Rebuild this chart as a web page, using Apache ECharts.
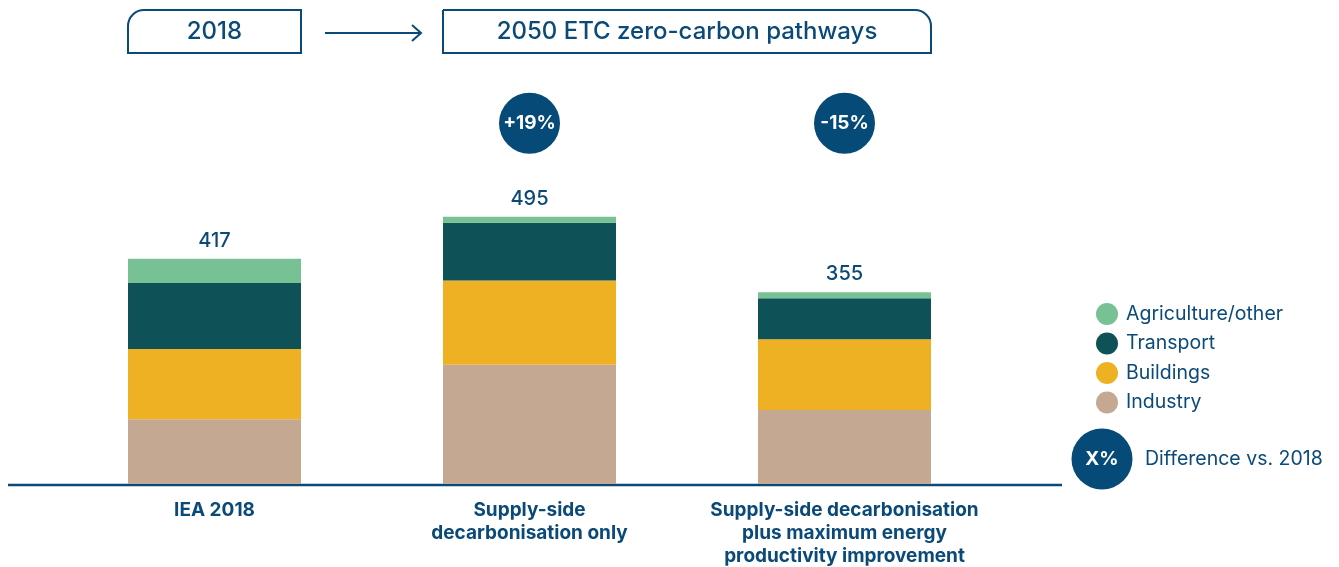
<!DOCTYPE html>
<html>
<head>
<meta charset="utf-8">
<script src="https://cdn.jsdelivr.net/npm/echarts@6/dist/echarts.min.js"></script>
<style>
  html, body { margin: 0; padding: 0; background: #fff; }
  #main { width: 1339px; height: 567px; }
</style>
</head>
<body>
<div id="main"></div>
<script>
// data
const categories = ['IEA 2018', 'Supply-side\ndecarbonisation only', 'Supply-side decarbonisation\nplus maximum energy\nproductivity improvement'];
const industry = [120, 221, 137];
const buildings = [130, 156, 131];
const transport = [122, 107, 76];
const agriculture = [45, 11, 11];
const totals = [417, 495, 355];
const differences = ['', '+19%', '-15%'];

const navy = '#0b4a78';
const font = 'Inter';

var myChart = echarts.init(document.getElementById('main'));

function barSeries(name, data, color) {
  return {
    name: name,
    type: 'bar',
    stack: 'total',
    barWidth: 173,
    data: data,
    itemStyle: { color: color },
    emphasis: { disabled: true }
  };
}

var agriSeries = barSeries('Agriculture/other', agriculture, '#78c194');
agriSeries.label = {
  show: true,
  position: 'top',
  distance: 8,
  color: navy,
  fontFamily: font,
  fontSize: 20,
  fontWeight: 500,
  formatter: function (p) { return totals[p.dataIndex]; }
};

var option = {
  animation: false,
  textStyle: { fontFamily: font },
  grid: { left: 57, right: 337, top: 106, bottom: 83, outerBoundsMode: 'none', containLabel: false },
  legend: {
    orient: 'vertical',
    left: 1091,
    top: 298,
    icon: 'circle',
    itemWidth: 22,
    itemHeight: 22,
    itemGap: 7.5,
    data: ['Agriculture/other', 'Transport', 'Buildings', 'Industry'],
    textStyle: { color: navy, fontSize: 19.5, fontFamily: font, padding: [0, 0, 0, 3] }
  },
  xAxis: {
    type: 'category',
    data: categories,
    axisLine: { show: false },
    axisTick: { show: false },
    axisLabel: {
      interval: 0,
      color: navy,
      fontWeight: 'bold',
      fontSize: 19,
      lineHeight: 23,
      margin: 15,
      fontFamily: font,
      verticalAlign: 'top'
    }
  },
  yAxis: {
    type: 'value',
    min: 0,
    max: 700,
    show: false,
    splitLine: { show: false }
  },
  series: [
    barSeries('Industry', industry, '#c4a892'),
    barSeries('Buildings', buildings, '#efb124'),
    barSeries('Transport', transport, '#0e5157'),
    agriSeries,
    {
      name: 'diff',
      type: 'scatter',
      symbolSize: 61,
      itemStyle: { color: '#064a78', opacity: 1 },
      data: differences.map(function (d, i) { return d ? [i, 668, d] : null; }).filter(Boolean),
      label: {
        show: true,
        position: 'inside',
        color: '#fff',
        fontWeight: 'bold',
        fontSize: 19,
        fontFamily: font,
        formatter: function (p) { return p.value[2]; }
      },
      emphasis: { disabled: true }
    }
  ],
  graphic: [
    // baseline
    { type: 'line', shape: { x1: 8, y1: 485, x2: 1062, y2: 485 }, style: { stroke: navy, lineWidth: 2.5 } },
    // header boxes
    { type: 'rect', shape: { x: 128, y: 10, width: 173, height: 43, r: [16, 0, 0, 0] }, style: { fill: '#fff', stroke: navy, lineWidth: 2 } },
    { type: 'text', x: 214.5, y: 32, style: { text: '2018', fill: navy, fontSize: 24, fontWeight: 500, fontFamily: font, align: 'center', verticalAlign: 'middle' } },
    { type: 'line', shape: { x1: 325, y1: 33, x2: 421, y2: 33 }, style: { stroke: navy, lineWidth: 2 } },
    { type: 'polyline', shape: { points: [[412, 25], [421, 33], [412, 41]] }, style: { stroke: navy, lineWidth: 2, fill: null } },
    { type: 'rect', shape: { x: 443, y: 10, width: 488, height: 43, r: [0, 16, 0, 0] }, style: { fill: '#fff', stroke: navy, lineWidth: 2 } },
    { type: 'text', x: 687, y: 32, style: { text: '2050 ETC zero-carbon pathways', fill: navy, fontSize: 24, fontWeight: 500, fontFamily: font, align: 'center', verticalAlign: 'middle' } },
    // difference legend
    { type: 'circle', shape: { cx: 1102, cy: 459, r: 30.5 }, style: { fill: '#064a78' } },
    { type: 'text', x: 1102, y: 459, style: { text: 'X%', fill: '#fff', fontSize: 19, fontWeight: 'bold', fontFamily: font, align: 'center', verticalAlign: 'middle' } },
    { type: 'text', x: 1145, y: 459, style: { text: 'Difference vs. 2018', fill: navy, fontSize: 19.5, fontFamily: font, align: 'left', verticalAlign: 'middle' } }
  ]
};

myChart.setOption(option);
</script>
</body>
</html>
